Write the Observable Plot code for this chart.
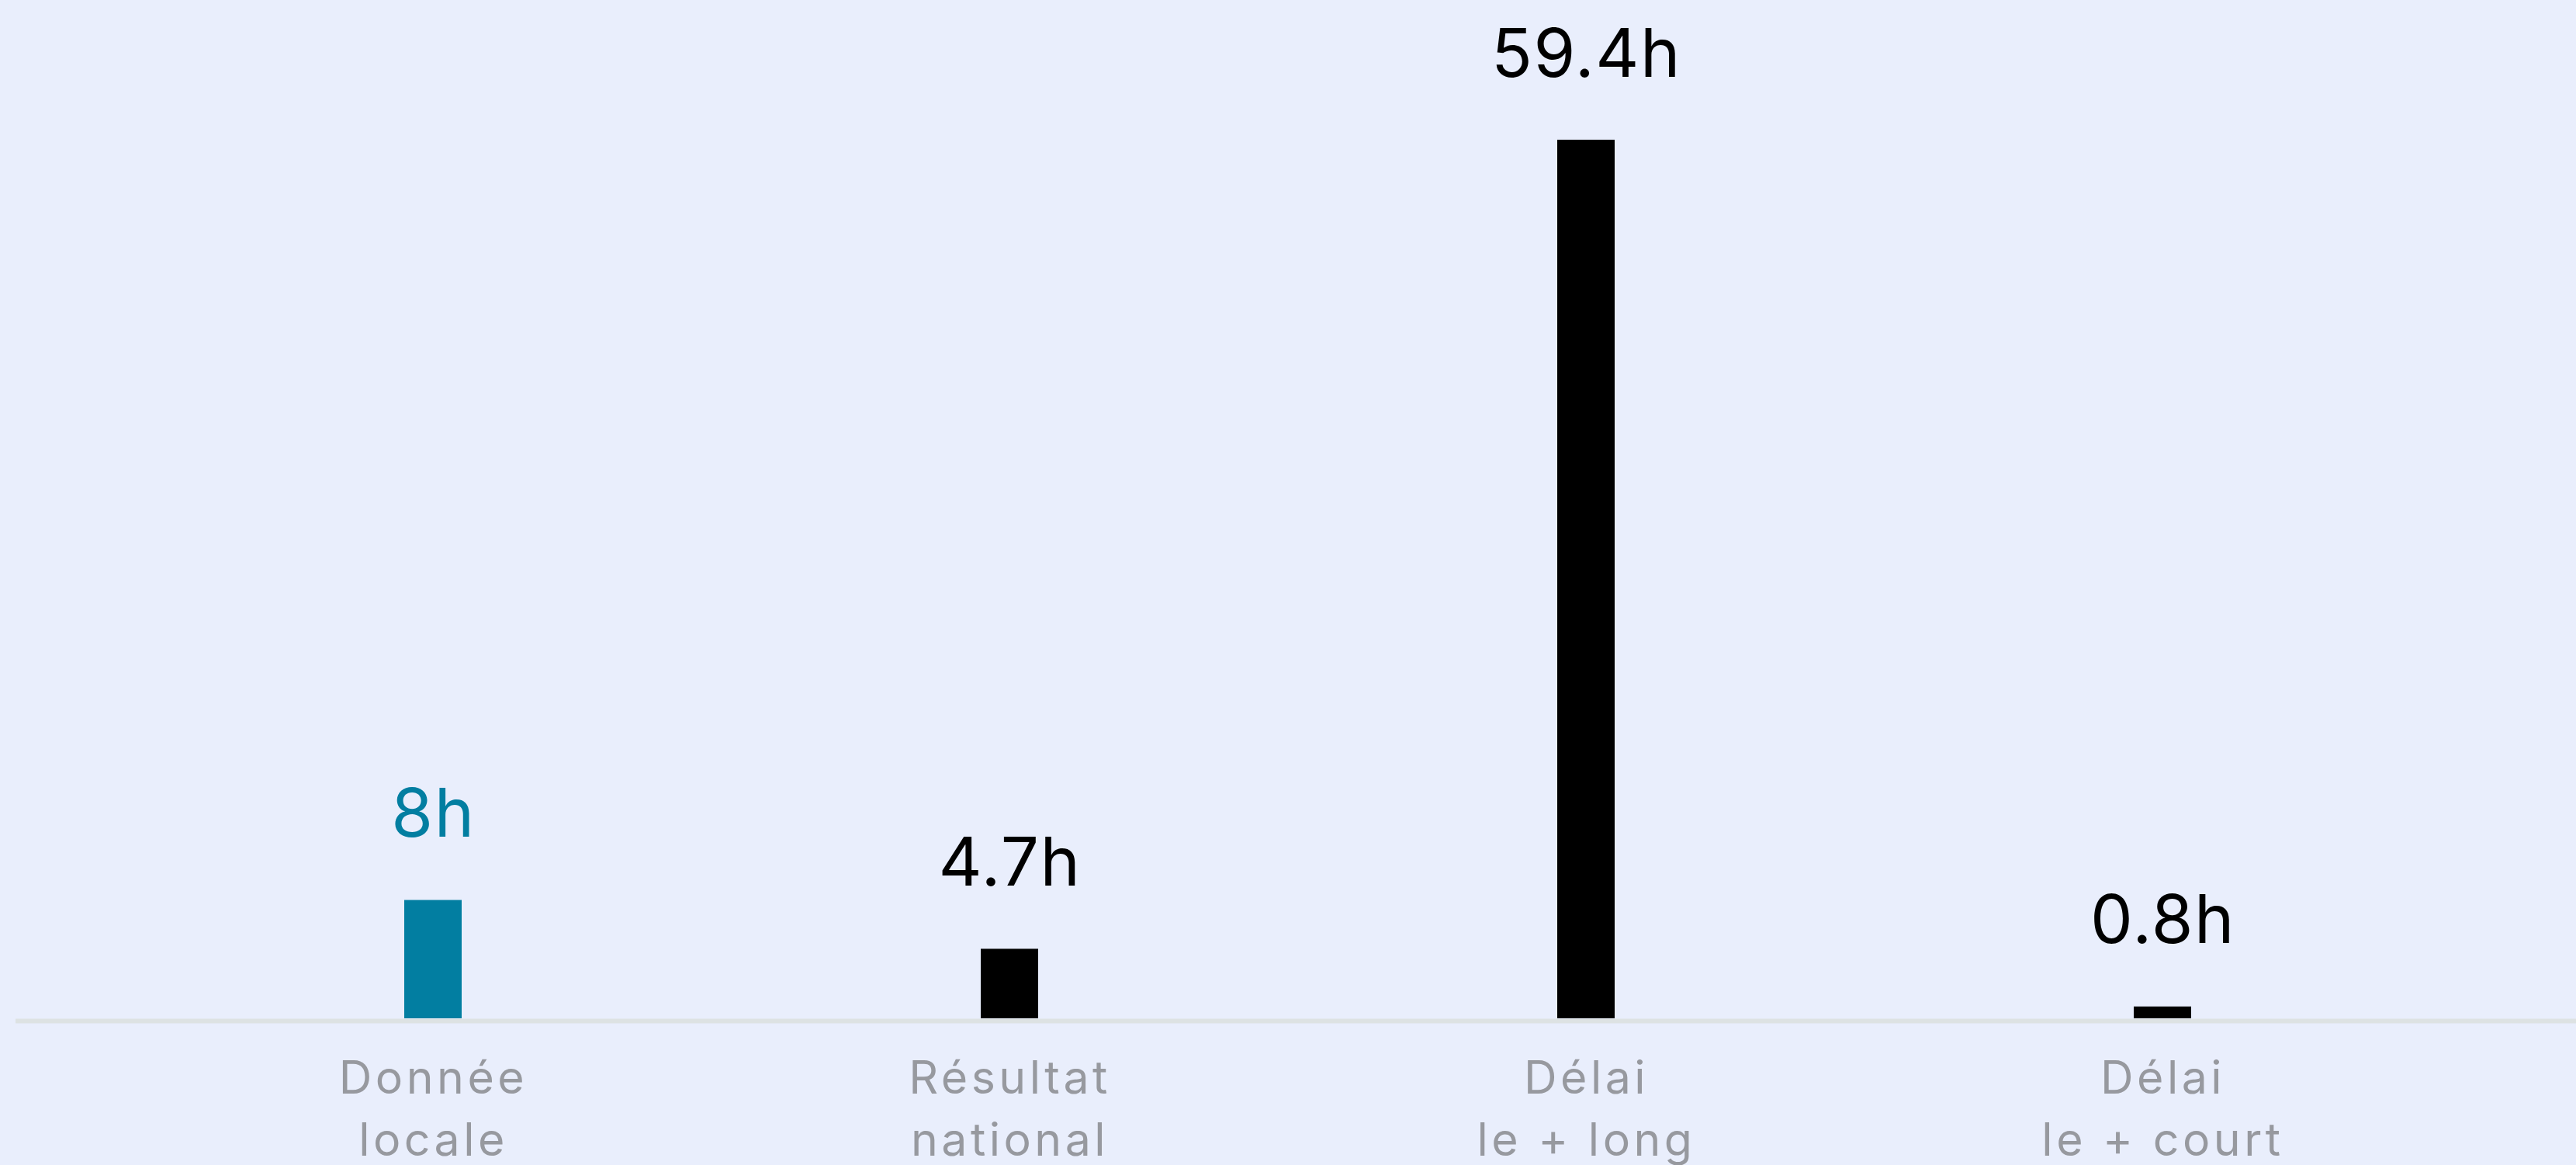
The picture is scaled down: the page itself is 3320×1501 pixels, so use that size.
<!DOCTYPE html>
<html><head><meta charset="utf-8">
<script src="https://cdn.jsdelivr.net/npm/d3@7"></script>
<script src="https://cdn.jsdelivr.net/npm/@observablehq/plot@0.6"></script>
<style>
html,body{margin:0;padding:0;background:#e9eefc;overflow:hidden}
svg [aria-label="x-axis tick label"] text{letter-spacing:4.5px}
svg [aria-label="text"] text{letter-spacing:1.5px}
</style>
</head><body><div id="chart"></div>
<script>
const categories = ["Donnée locale", "Résultat national", "Délai le + long", "Délai le + court"];
const tickLabels = ["Donnée\nlocale", "Résultat\nnational", "Délai\nle + long", "Délai\nle + court"];
const values = [8, 4.7, 59.4, 0.8];
const valueLabels = ["8h", "4.7h", "59.4h", "0.8h"];
const highlight = [true, false, false, false];

const TEAL = "#027ea1";
const data = categories.map((c, i) => ({category: c, value: values[i], label: valueLabels[i], color: highlight[i] ? TEAL : "#000000"}));

const chart = Plot.plot({
  width: 3320,
  height: 1501,
  marginTop: 180,
  marginBottom: 189,
  marginLeft: 20,
  marginRight: 0,
  style: {background: "transparent", fontFamily: "Inter, sans-serif"},
  x: {domain: categories, paddingInner: 0.9, paddingOuter: 0.67, align: 0.503, label: null},
  y: {domain: [0, 59.4], axis: null},
  color: {type: "identity"},
  marks: [
    Plot.ruleY([0], {stroke: "#dde2e3", strokeWidth: 6, dy: 3}),
    Plot.barY(data, {x: "category", y: "value", fill: "color"}),
    Plot.text(data, {x: "category", y: "value", text: "label", dy: -82, lineAnchor: "bottom", fontSize: 87, fill: "color"}),
    Plot.axisX({tickSize: 0, tickPadding: 40, fontSize: 59, lineHeight: 80 / 59, color: "#97999f", tickFormat: d => tickLabels[categories.indexOf(d)], label: null})
  ]
});
document.getElementById("chart").appendChild(chart);
</script>
</body></html>
